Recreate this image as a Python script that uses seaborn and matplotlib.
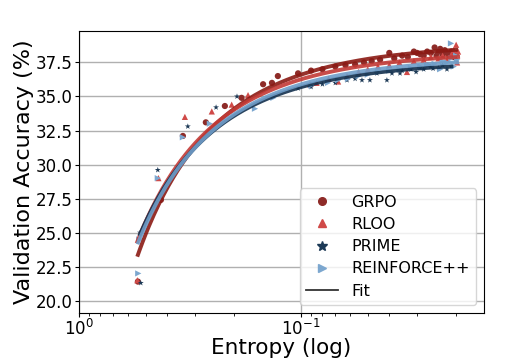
import numpy as np
import pandas as pd
import matplotlib
matplotlib.use("Agg")
import matplotlib.pyplot as plt
import seaborn as sns
from matplotlib.lines import Line2D

methods = ["GRPO", "RLOO", "PRIME", "REINFORCE++"]

grpo_entropy = [0.542, 0.427, 0.340, 0.268, 0.220, 0.185, 0.148, 0.135, 0.127, 0.103,
                0.090, 0.080, 0.070, 0.063, 0.057, 0.052, 0.048, 0.044, 0.040, 0.038,
                0.035, 0.033, 0.031, 0.030, 0.029, 0.028, 0.027, 0.026, 0.025, 0.0245,
                0.024, 0.0236, 0.023, 0.0225, 0.022, 0.0215, 0.021, 0.0205, 0.020]
grpo_acc = [21.4, 27.4, 32.1, 33.1, 34.3, 34.9, 35.9, 36.0, 36.5, 36.7,
            36.9, 37.0, 37.2, 37.3, 37.35, 37.5, 37.6, 37.7, 38.2, 37.8,
            38.0, 37.9, 38.3, 38.2, 38.1, 38.0, 38.3, 38.2, 38.6, 38.0,
            38.3, 38.5, 38.1, 38.4, 38.2, 38.0, 38.3, 37.9, 38.2]

rloo_entropy = [0.545, 0.438, 0.333, 0.252, 0.205, 0.173, 0.091, 0.085, 0.075, 0.068,
                0.062, 0.055, 0.050, 0.045, 0.040, 0.036, 0.0333, 0.031, 0.028, 0.026,
                0.024, 0.023, 0.022, 0.021, 0.0205, 0.0200, 0.0198, 0.0196]
rloo_acc = [21.5, 29.0, 33.5, 33.9, 34.4, 35.1, 35.9, 36.0, 36.3, 36.1,
            36.5, 36.8, 37.0, 37.2, 37.3, 37.5, 36.8, 37.6, 37.7, 37.9,
            37.8, 38.0, 37.7, 38.1, 38.4, 38.8, 37.5, 38.3]

prime_entropy = [0.526, 0.530, 0.441, 0.323, 0.241, 0.194, 0.103, 0.090, 0.080, 0.070,
                 0.062, 0.057, 0.0531, 0.0489, 0.0455, 0.041, 0.0389, 0.0358, 0.035, 0.032,
                 0.0303, 0.0291, 0.028, 0.0268, 0.026, 0.0254, 0.024, 0.023, 0.022, 0.021]
prime_acc = [21.3, 25.0, 29.6, 32.8, 34.2, 35.0, 35.6, 35.7, 35.9, 36.0,
             36.2, 36.3, 36.2, 36.2, 36.7, 36.2, 36.7, 36.7, 36.9, 37.0,
             36.8, 37.1, 37.0, 37.3, 37.2, 37.05, 37.1, 37.3, 37.0, 37.2]

reinforce_entropy = [0.540, 0.535, 0.441, 0.340, 0.257, 0.161, 0.133, 0.090, 0.0755, 0.068,
                     0.0614, 0.055, 0.050, 0.045, 0.040, 0.036, 0.032, 0.029, 0.027, 0.025,
                     0.0236, 0.023, 0.022, 0.0211, 0.021, 0.0205, 0.020, 0.0198]
reinforce_acc = [22.0, 24.5, 29.0, 32.0, 33.0, 34.1, 34.9, 35.8, 36.0, 36.2,
                 36.3, 36.5, 36.6, 36.8, 36.9, 37.0, 37.1, 37.2, 37.3, 37.4,
                 37.0, 37.6, 37.5, 38.9, 37.8, 37.2, 38.0, 37.7]

point_colors = {"GRPO": "#8e2b28", "RLOO": "#d04a48", "PRIME": "#1c3956", "REINFORCE++": "#7ca7cf"}
fit_colors = {"GRPO": "#8b1a14", "RLOO": "#c23a36", "PRIME": "#13304d", "REINFORCE++": "#6f9dc8"}
markers = {"GRPO": "o", "RLOO": "^", "PRIME": "*", "REINFORCE++": ">"}

series = {
    "GRPO": (grpo_entropy, grpo_acc),
    "RLOO": (rloo_entropy, rloo_acc),
    "PRIME": (prime_entropy, prime_acc),
    "REINFORCE++": (reinforce_entropy, reinforce_acc),
}

df = pd.concat(
    [pd.DataFrame({"Entropy": e, "Accuracy": a, "Method": m}) for m, (e, a) in series.items()],
    ignore_index=True,
)

fig = plt.figure(figsize=(5.22, 3.58), dpi=100)
ax = fig.add_axes([0.151, 0.126, 0.776, 0.787])

sns.scatterplot(
    data=df, x="Entropy", y="Accuracy", hue="Method", style="Method",
    hue_order=methods, style_order=methods,
    palette=point_colors, markers=markers,
    s=20, edgecolor="none", legend=False, ax=ax, zorder=3,
)

# fit R = -a * exp(H) + b for each method
for m in methods:
    e, a = series[m]
    e = np.array(e)
    coef = np.polyfit(np.exp(e), np.array(a), 1)
    hh = np.logspace(np.log10(e.min()), np.log10(e.max()), 200)
    ax.plot(hh, np.polyval(coef, np.exp(hh)), color=fit_colors[m], lw=2.8, alpha=0.9, zorder=4)

ax.set_xscale("log")
ax.set_xlim(1.0, 0.015)
ax.set_ylim(19.1, 39.8)
ax.set_yticks([20.0, 22.5, 25.0, 27.5, 30.0, 32.5, 35.0, 37.5])
ax.grid(True, which="major", color="#b0b0b0", lw=1)
ax.set_axisbelow(True)

ax.set_xlabel("Entropy (log)", fontsize=15.5, labelpad=-1)
ax.set_ylabel("Validation Accuracy (%)", fontsize=16, labelpad=1)
ax.tick_params(axis="both", which="major", labelsize=12, length=3, pad=1.5)
ax.tick_params(axis="x", which="minor", length=2)

handles = [
    Line2D([], [], ls="none", marker=markers[m], color=point_colors[m],
           markersize=7 if m == "PRIME" else 5.5)
    for m in methods
]
handles.append(Line2D([], [], color="#333333", lw=1.3))
ax.legend(handles, methods + ["Fit"], loc="lower right", fontsize=11.5, labelspacing=0.45)

plt.savefig("out.png", dpi=100)
